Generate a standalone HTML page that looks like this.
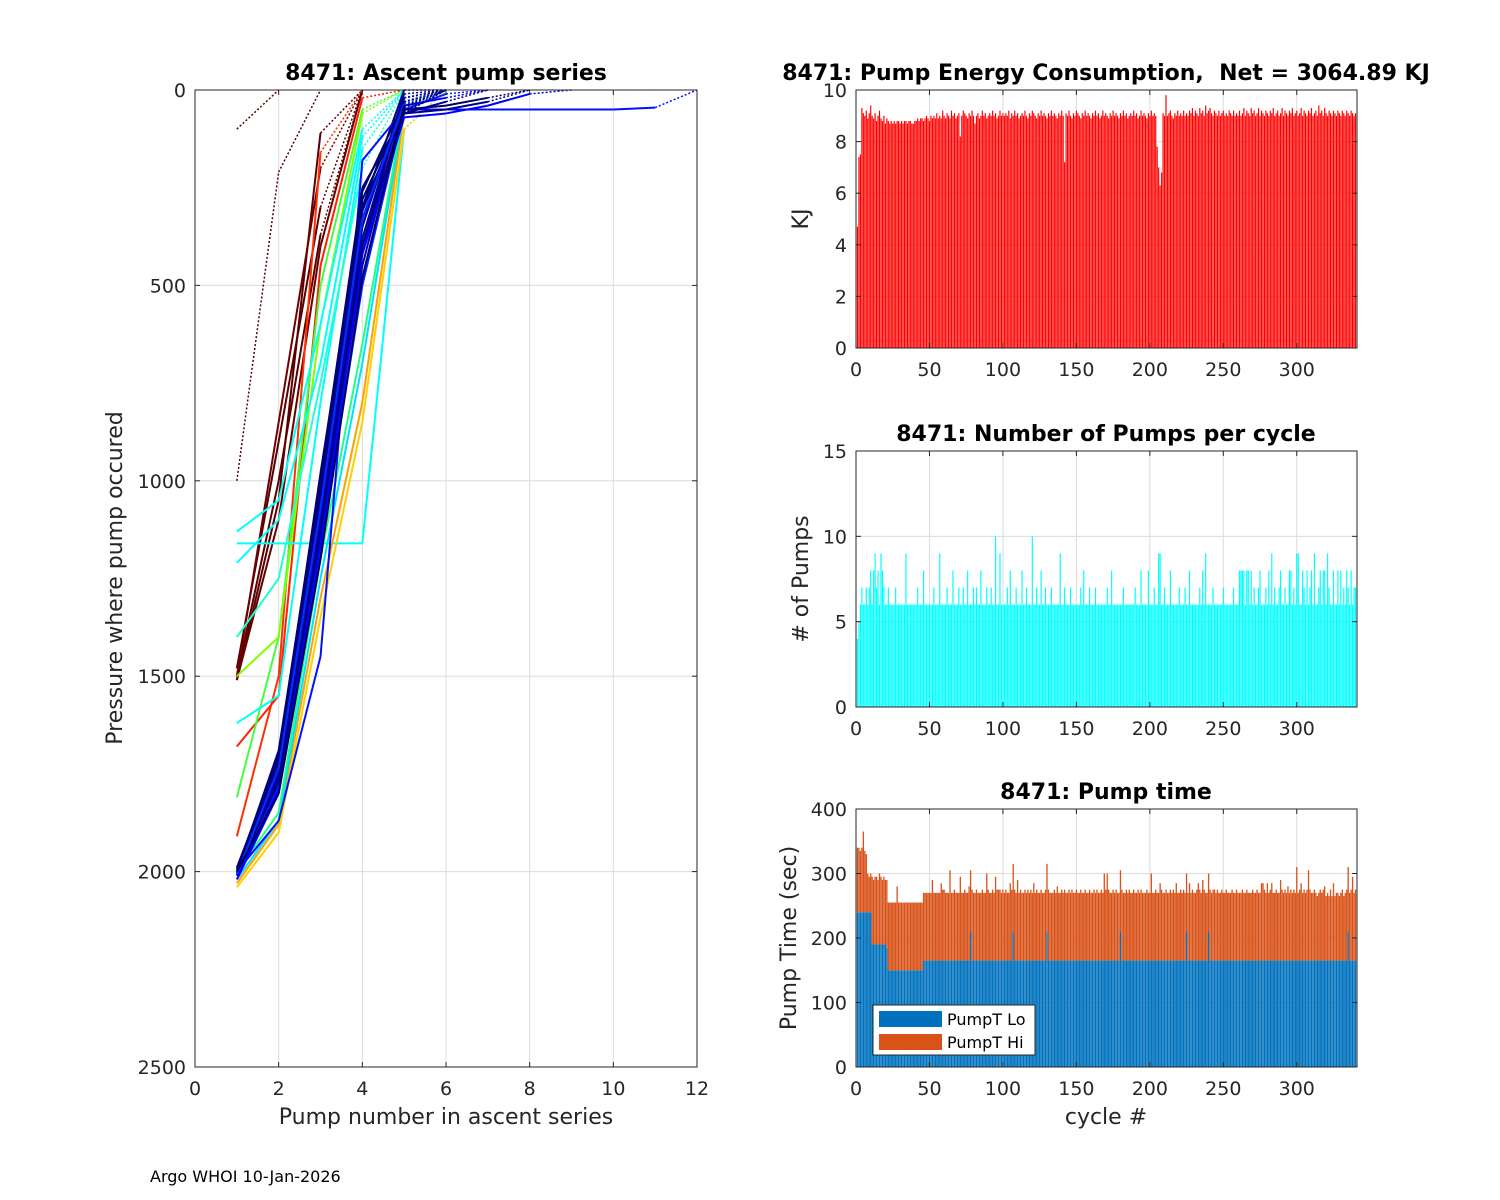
<!DOCTYPE html>
<html><head><meta charset="utf-8">
<style>
html,body{margin:0;padding:0;background:#fff;}
svg{display:block;font-family:"DejaVu Sans","Liberation Sans",sans-serif;}
</style></head>
<body>
<svg id="fig" width="1500" height="1200" viewBox="0 0 1500 1200" xmlns="http://www.w3.org/2000/svg">
<rect width="1500" height="1200" fill="#fff"/>
<g id="ascent"></g>
<g id="energy"></g>
<g id="pumps"></g>
<g id="ptime"></g>
<text x="150" y="1182" font-size="16" fill="#000">Argo WHOI 10-Jan-2026</text>
</svg>
<script>
// ---------- data ----------
const ascentXTicks = [0,2,4,6,8,10,12];
const ascentYTicks = [0,500,1000,1500,2000,2500];
const profiles = [
[100,0],[1000,210,0],[1510,1050,110,0],[1500,1000,370,0],[1510,1100,400,0],[1480,900,300,0],[1500,850,200,0],
[1910,1500,160,0],[1680,1550,450,20,0],[1810,1400,500,50,0],[1500,1400,600,60,0],
[1130,1050,600,100,0],[1210,1100,700,120,0],[1160,1160,1160,1160,100,0],[1620,1550,800,150,0],[1400,1250,750,200,0],
[2030,1880,1300,800,60,0],[2040,1900,1350,850,100,0],[2020,1870,1250,700,50,0],[2000,1850,1200,650,40,0],
[2010,1700,1000,300,0,0],[2000,1750,1100,400,20,0],[2010,1720,1050,350,10,0],[1990,1760,1150,450,30,0],
[2000,1780,1180,500,50,10,0],[2020,1800,1200,420,40,20,0],[2010,1740,1080,330,30,0],[2000,1870,1450,180,50,50,50,50,50,50,45,0],
[2000,1690,1000,250,60,30,0],[2010,1730,1020,280,50,40,20,0],[1990,1710,980,300,60,50,30,0],[2000,1760,1120,380,20,0],
[2010,1790,1160,420,70,60,40,10,0],[2000,1740,1060,300,60,0],[2005,1720,1040,310,45,0],[1995,1700,990,260,30,0],
[2010,1750,1100,350,20,0],[2000,1770,1130,400,55,0],[2008,1735,1070,330,35,0],[2000,1800,1200,480,40,0]
];
const profileColors = ['#5a0000','#5a0000','#5a0000','#5a0000','#6a0000','#5a0000','#700000',
'#ff3000','#ff2000','#40ff40','#80ff00','#00ffff','#00ffff','#00ffff','#00ffff','#20ffd0',
'#ffa000','#ffd000','#00e0ff','#20ff80',
'#000080','#000090','#0000a0','#0000c0','#0020ff','#0000ff','#000080','#0010ff',
'#00008f','#000070','#000080','#0000a0','#0000ff','#000080','#000090','#000070','#0000b0','#000080','#0030ff','#000060'];
const profileDotted = [1,1,0,0,0,0,0, 0,0,0,0, 0,0,0,0,0, 0,0,0,0, 0,0,0,0,0,0,0,0, 0,0,0,0,0,0,0,0,0,0,0,0];

const cycleTicks = [0,50,100,150,200,250,300];
const energyTicks = [0,2,4,6,8,10];
const energyKJ = [
4.7,7.4,7.5,9.3,9.1,9.0,9.2,8.9,9.1,9.4,9.0,8.9,9.1,8.8,9.0,9.2,8.9,8.8,9.0,8.7,
8.9,8.8,8.7,8.8,8.7,8.8,8.7,8.8,8.8,8.7,8.8,8.7,8.8,8.8,8.7,8.8,8.8,8.7,8.7,8.8,
8.8,8.9,8.8,8.9,8.9,8.8,8.9,9.0,8.9,8.8,9.0,8.9,9.0,8.9,9.1,8.9,9.0,8.9,9.2,9.0,
8.9,9.1,9.0,8.9,9.2,9.0,9.1,8.9,9.0,9.1,8.2,9.0,9.2,9.1,9.0,8.9,9.1,9.0,9.2,9.0,
8.7,9.0,9.1,8.9,9.0,9.2,9.0,9.1,8.9,9.0,9.1,9.0,9.2,9.0,9.1,8.9,9.0,9.2,9.0,9.1,
9.0,9.1,9.0,9.2,8.9,9.1,9.0,9.2,9.0,9.1,8.9,9.0,9.1,9.0,9.2,9.0,8.9,9.1,9.0,9.2,
9.1,9.0,8.9,9.1,9.0,9.2,9.0,9.1,9.0,8.9,9.1,9.0,9.2,9.0,9.1,9.0,8.9,9.1,9.0,9.2,
9.0,7.2,9.1,9.0,9.2,9.0,8.9,9.1,9.0,9.2,9.1,9.0,8.9,9.1,9.0,9.2,9.0,9.1,9.0,8.9,
9.1,9.0,9.2,9.0,9.1,8.9,9.0,9.2,9.0,9.1,9.0,8.9,9.1,9.0,9.2,9.0,9.1,9.0,8.9,9.1,
9.0,9.2,9.0,9.1,8.9,9.0,9.1,9.0,9.2,9.0,9.1,8.9,9.0,9.2,9.0,9.1,9.0,8.9,9.1,9.0,
9.2,9.0,9.1,9.0,7.8,7.0,6.3,6.8,9.1,9.0,9.8,9.0,9.1,9.2,9.0,8.9,9.1,9.0,9.2,9.0,
9.1,9.0,9.2,9.0,9.1,9.0,9.2,9.1,9.3,9.0,9.2,9.1,9.0,9.3,9.1,9.2,9.0,9.4,9.1,9.2,
9.3,9.1,9.0,9.2,9.1,9.0,9.2,9.0,9.1,9.2,9.0,9.1,9.0,9.2,9.1,9.0,9.2,9.0,9.1,9.0,
9.2,9.0,9.1,9.3,9.0,9.2,9.1,9.0,9.3,9.1,9.2,9.0,9.1,9.3,9.0,9.2,9.1,9.0,9.2,9.1,
9.0,9.2,9.1,9.3,9.0,9.1,9.2,9.0,9.1,9.3,9.0,9.2,9.1,9.0,9.2,9.1,9.3,9.0,9.1,9.2,
9.0,9.1,9.3,9.0,9.2,9.1,9.0,9.2,9.1,9.3,9.0,9.1,9.2,9.0,9.4,9.1,9.2,9.0,9.3,9.1,
9.0,9.2,9.1,9.0,9.2,9.1,9.0,9.2,9.1,9.0,9.2,9.1,9.0,9.2,9.1,9.0,9.2,9.1,9.0,9.1];
const pumpTicks = [0,5,10,15];
const pumpCount = [
4,5,6,7,6,6,7,6,7,8,6,8,9,7,8,6,9,8,7,6,
6,7,6,6,6,6,7,6,6,6,6,6,6,9,6,6,6,6,6,6,
6,7,6,6,6,8,6,6,6,6,6,6,7,6,6,6,9,6,6,6,
6,7,6,6,6,8,6,6,6,7,6,6,7,6,6,8,6,6,6,7,
6,7,6,6,8,6,6,6,7,6,6,7,6,6,10,6,6,9,6,6,
6,6,7,6,8,6,6,6,7,6,6,6,8,6,6,7,6,6,6,10,
6,6,7,6,6,8,6,6,7,6,6,6,7,6,6,6,6,6,9,6,
6,7,6,6,6,7,6,6,6,6,6,6,7,6,8,6,6,6,7,6,
6,6,7,6,6,6,6,6,6,6,7,6,6,8,6,6,6,6,6,6,
6,7,6,6,6,6,6,6,6,7,6,6,6,8,6,6,6,6,8,6,
6,6,7,6,6,9,9,6,6,7,6,6,6,8,6,6,6,6,6,7,
6,6,6,7,6,6,8,6,6,6,6,6,6,7,6,8,6,9,6,6,
6,6,7,6,6,6,6,6,6,7,6,6,6,6,6,6,7,6,6,6,
8,8,8,8,6,8,8,6,8,6,7,6,6,7,8,6,6,6,7,6,
8,6,9,6,7,6,6,7,8,6,6,7,6,6,8,8,6,7,6,9,
9,6,6,8,7,6,8,6,7,8,6,9,6,6,7,8,6,8,8,6,
9,7,6,6,8,6,6,8,6,8,6,7,6,8,7,6,8,6,7,7];
const timeTicks = [0,100,200,300,400];
const pumpLo = [
240,240,240,240,240,240,240,240,240,240,190,190,190,190,190,190,190,190,190,190,
185,150,150,150,150,150,150,150,150,150,150,150,150,150,150,150,150,150,150,150,
150,150,150,150,150,165,165,165,165,165,165,165,165,165,165,165,165,165,165,165,
165,165,165,165,165,165,165,165,165,165,165,165,165,165,165,165,165,210,165,165,
165,165,165,165,165,165,165,165,165,165,165,165,165,165,165,165,165,165,165,165,
165,165,165,165,165,165,210,165,165,165,165,165,165,165,165,165,165,165,165,165,
165,165,165,165,165,165,165,165,165,210,165,165,165,165,165,165,165,165,165,165,
165,165,165,165,165,165,165,165,165,165,165,165,165,165,165,165,165,165,165,165,
165,165,165,165,165,165,165,165,165,165,165,165,165,165,165,165,165,165,165,210,
165,165,165,165,165,165,165,165,165,165,165,165,165,165,165,165,165,165,165,165,
165,165,165,165,165,165,165,165,165,165,165,165,165,165,165,165,165,165,165,165,
165,165,165,165,210,165,165,165,165,165,165,165,165,165,165,165,165,165,165,210,
165,165,165,165,165,165,165,165,165,165,165,165,165,165,165,165,165,165,165,165,
165,165,165,165,165,165,165,165,165,165,165,165,165,165,165,165,165,165,165,165,
165,165,165,165,165,165,165,165,165,165,165,165,165,165,165,165,165,165,165,165,
165,165,165,165,165,165,165,165,165,165,165,165,165,165,165,165,165,165,165,165,
165,165,165,165,165,165,165,165,165,165,165,165,165,165,210,165,165,165,165,165];
const pumpHi = [
100,100,95,100,125,95,90,60,55,60,105,100,105,105,100,110,105,100,105,100,
105,105,105,105,105,105,105,130,105,105,105,105,105,105,105,105,105,105,105,105,
105,105,105,105,105,105,105,105,105,105,105,125,105,105,105,105,105,120,110,110,
105,105,105,140,105,105,110,105,105,105,130,105,105,110,105,105,115,95,110,105,
105,110,105,105,105,110,105,105,135,110,105,105,110,105,130,110,110,110,105,110,
105,110,105,105,120,110,105,110,105,125,105,110,105,105,110,105,110,105,110,105,
120,105,110,105,105,110,105,105,110,105,110,105,105,105,110,105,115,105,105,110,
105,110,105,105,110,105,110,105,105,110,105,105,110,105,105,110,105,105,110,105,
105,110,105,110,105,105,110,105,135,110,135,110,105,105,110,105,110,105,105,95,
110,105,105,110,105,110,105,105,110,105,105,110,105,110,105,105,105,110,105,105,
135,105,105,110,105,105,120,110,105,105,110,105,105,110,105,110,105,120,105,105,
110,105,110,105,90,105,120,105,110,105,105,110,120,110,105,125,110,105,105,90,
110,105,110,110,105,110,105,105,110,105,105,110,105,105,105,110,105,105,110,105,
105,105,110,105,105,110,105,105,105,110,105,105,110,105,105,120,120,110,105,120,
105,110,120,105,105,110,105,105,125,110,105,110,105,115,105,110,105,110,105,145,
105,110,120,105,110,105,110,140,110,105,105,110,105,100,105,110,105,110,115,100,
105,100,110,100,120,100,105,105,100,105,110,100,105,110,100,105,110,130,105,110];

// ---------- helpers ----------
const NS='http://www.w3.org/2000/svg';
function mk(parent,tag,attrs,text){const e=document.createElementNS(NS,tag);for(const k in attrs)e.setAttribute(k,attrs[k]);if(text!==undefined)e.textContent=text;parent.appendChild(e);return e;}
const GRID='#dcdcdc', AX='#262626';

function frame(g,L,T,R,B,xt,xs,yt,ys,xgrid){
  yt.forEach(v=>{const y=ys(v);
    const gl=mk(g,'line',{x1:L,x2:R,y1:y,y2:y,stroke:GRID,'stroke-width':1});
    });
  if(xgrid) xt.forEach(v=>{const x=xs(v);
    const gl=mk(g,'line',{x1:x,x2:x,y1:T,y2:B,stroke:GRID,'stroke-width':1});
    });
}
function axes(g,L,T,R,B,xt,xs,yt,ys){
  mk(g,'rect',{x:L,y:T,width:R-L,height:B-T,fill:'none',stroke:AX,'stroke-width':1});
  xt.forEach(v=>{const x=xs(v);
    mk(g,'line',{x1:x,x2:x,y1:B,y2:B-5,stroke:AX});mk(g,'line',{x1:x,x2:x,y1:T,y2:T+5,stroke:AX});
    const t=mk(g,'text',{x:x,y:B+28,'font-size':19,'text-anchor':'middle',fill:AX},v);
    });
  yt.forEach(v=>{const y=ys(v);
    mk(g,'line',{x1:L,x2:L+5,y1:y,y2:y,stroke:AX});mk(g,'line',{x1:R,x2:R-5,y1:y,y2:y,stroke:AX});
    const t=mk(g,'text',{x:L-9,y:y+7,'font-size':19,'text-anchor':'end',fill:AX},v);
    });
}
function title(g,x,y,s){const t=mk(g,'text',{x:x,y:y,'font-size':22,'font-weight':'bold','text-anchor':'middle',fill:'#000',style:'white-space:pre'},s);
  }
function ylabel(g,x,y,s){const t=mk(g,'text',{x:0,y:0,'font-size':22,'text-anchor':'middle',fill:AX,transform:`translate(${x},${y}) rotate(-90)`},s);
  }
function xlabel(g,x,y,s){const t=mk(g,'text',{x:x,y:y,'font-size':22,'text-anchor':'middle',fill:AX},s);
  }

// ---------- ascent chart ----------
(function(){
  const g=document.getElementById('ascent');
  const L=195,R=697,T=90,B=1067;
  const xs=v=>L+v*(R-L)/12, ys=p=>T+p*(B-T)/2500;
  frame(g,L,T,R,B,ascentXTicks,xs,ascentYTicks,ys,true);
  profiles.forEach((pr,i)=>{
    for(let k=0;k<pr.length-1;k++){
      const last = k===pr.length-2 && pr[k+1]===0;
      const dotted = profileDotted[i] || (last && pr[k]<400);
      const ln=mk(g,'line',{x1:xs(k+1),y1:ys(pr[k]),x2:xs(k+2),y2:ys(pr[k+1]),stroke:profileColors[i],'stroke-width':dotted?1.5:2,'stroke-dasharray':dotted?'2 2':'none'});
      
      
    }
  });
  axes(g,L,T,R,B,ascentXTicks,xs,ascentYTicks,ys);
  title(g,446,80,'8471: Ascent pump series');
  ylabel(g,122,578,'Pressure where pump occured');
  xlabel(g,446,1124,'Pump number in ascent series');
})();

// ---------- right charts ----------
const RL=856,RR=1357,XMAX=341;
const xr=c=>RL+c*(RR-RL)/XMAX;
const bw=(RR-RL)/XMAX;

(function(){
  const g=document.getElementById('energy');const T=90,B=348;
  const ys=v=>B-v*(B-T)/10;
  frame(g,RL,T,RR,B,cycleTicks,xr,energyTicks,ys,true);
  energyKJ.forEach((v,i)=>{const c=i+1;
    const r=mk(g,'rect',{x:xr(c)-bw*0.4,y:ys(v),width:bw*0.8,height:B-ys(v),fill:'#ff0000'});
    });
  axes(g,RL,T,RR,B,cycleTicks,xr,energyTicks,ys);
  title(g,1106,80,'8471: Pump Energy Consumption,  Net = 3064.89 KJ');
  ylabel(g,808,219,'KJ');
})();

(function(){
  const g=document.getElementById('pumps');const T=451,B=707;
  const ys=v=>B-v*(B-T)/15;
  frame(g,RL,T,RR,B,cycleTicks,xr,pumpTicks,ys,true);
  pumpCount.forEach((v,i)=>{const c=i+1;
    const r=mk(g,'rect',{x:xr(c)-bw*0.4,y:ys(v),width:bw*0.8,height:B-ys(v),fill:'#00ffff'});
    });
  axes(g,RL,T,RR,B,cycleTicks,xr,pumpTicks,ys);
  title(g,1106,441,'8471: Number of Pumps per cycle');
  ylabel(g,808,579,'# of Pumps');
})();

(function(){
  const g=document.getElementById('ptime');const T=809,B=1067;
  const ys=v=>B-v*(B-T)/400;
  frame(g,RL,T,RR,B,cycleTicks,xr,timeTicks,ys,true);
  pumpLo.forEach((v,i)=>{const c=i+1;const h=pumpHi[i];
    const r=mk(g,'rect',{x:xr(c)-bw*0.45,y:ys(v),width:bw*0.9,height:B-ys(v),fill:'#0072bd'});
    
    const r2=mk(g,'rect',{x:xr(c)-bw*0.45,y:ys(v+h),width:bw*0.9,height:ys(v)-ys(v+h),fill:'#d95319'});
    });
  axes(g,RL,T,RR,B,cycleTicks,xr,timeTicks,ys);
  title(g,1106,799,'8471: Pump time');
  ylabel(g,796,938,'Pump Time (sec)');
  xlabel(g,1106,1124,'cycle #');
  const lg=mk(g,'g',{});
  
  mk(lg,'rect',{x:873,y:1005,width:162,height:50,fill:'#fff',stroke:AX,'stroke-width':1});
  const e1=mk(lg,'rect',{x:879,y:1011,width:63,height:16,fill:'#0072bd'});
  
  const t1=mk(lg,'text',{x:947,y:1025,'font-size':16,fill:'#000'},'PumpT Lo');
  
  const e2=mk(lg,'rect',{x:879,y:1034,width:63,height:16,fill:'#d95319'});
  
  const t2=mk(lg,'text',{x:947,y:1048,'font-size':16,fill:'#000'},'PumpT Hi');
  
})();
</script>
</body></html>
